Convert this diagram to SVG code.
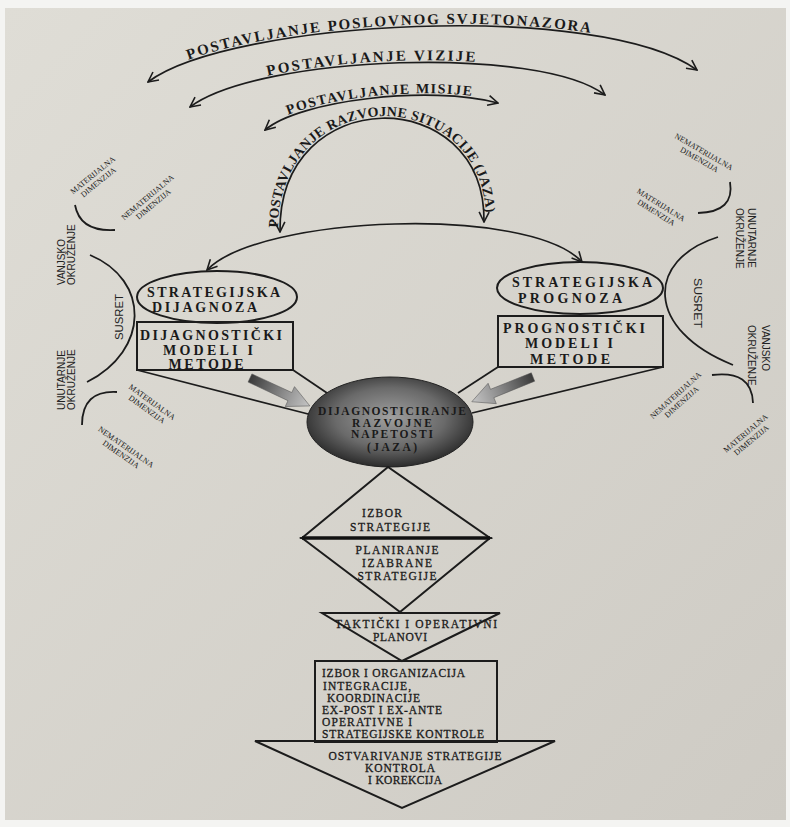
<svg xmlns="http://www.w3.org/2000/svg" width="790" height="827" viewBox="0 0 790 827">
<defs>
<linearGradient id="paper" x1="0" y1="0" x2="1" y2="1"><stop offset="0" stop-color="#dfddd6"/><stop offset="1" stop-color="#cecbc4"/></linearGradient>
<radialGradient id="gap" cx="0.5" cy="0.45" r="0.55"><stop offset="0" stop-color="#a0a0a0"/><stop offset="0.6" stop-color="#6a6a6a"/><stop offset="1" stop-color="#2c2c2c"/></radialGradient>
<linearGradient id="blk" x1="0" y1="0" x2="1" y2="0"><stop offset="0" stop-color="#3a3a3a"/><stop offset="0.55" stop-color="#8a8a8a"/><stop offset="1" stop-color="#c6c6c6"/></linearGradient>
<marker id="ah" viewBox="0 0 12 12" refX="11" refY="6" markerWidth="12" markerHeight="12" markerUnits="userSpaceOnUse" orient="auto-start-reverse"><path d="M1,1 L11,6 L1,11" fill="none" stroke="#1c1c1c" stroke-width="1.6"/></marker>
</defs>
<style>
.ln{fill:none;stroke:#1c1c1c;stroke-width:1.8}
.arc{fill:none;stroke:#1c1c1c;stroke-width:1.7;marker-start:url(#ah);marker-end:url(#ah)}
.shape{fill:none;stroke:#1c1c1c;stroke-width:2}
.bt{font-family:"Liberation Serif",serif;font-weight:bold;fill:#1a1a1a}
.rt{font-family:"Liberation Serif",serif;font-size:11.5px;fill:#1a1a1a;stroke:#1a1a1a;stroke-width:0.3}
.sans{font-family:"Liberation Sans",Arial,sans-serif;font-size:10px;fill:#222}
.dim{font-family:"Liberation Serif",serif;font-size:8px;fill:#222;text-anchor:middle}
.mid{text-anchor:middle}
</style>
<rect x="0" y="0" width="790" height="827" fill="#f4f4f2"/>
<rect x="5" y="8" width="781" height="812" fill="url(#paper)"/>

<g id="connectors">
  <path id="p-svjet" class="arc" d="M148,82 C230,20 600,0 697,70"/>
  <path id="p-vizija" class="arc" d="M190,107 C260,55 540,45 605,95"/>
  <path id="p-misija" class="arc" d="M265,130 C300,100 430,85 498,103"/>
  <path id="p-jaz" class="arc" d="M280,232 C278,82 486,82 484,222"/>
  <path class="arc" d="M207,270 C260,215 530,205 582,262"/>
  <line class="ln" x1="137" y1="370" x2="312" y2="415"/>
  <line class="ln" x1="293" y1="370" x2="330" y2="395"/>
  <line class="ln" x1="498" y1="367" x2="458" y2="393"/>
  <line class="ln" x1="663" y1="367" x2="472" y2="413"/>
</g>

<g id="arc-labels" class="bt">
  <text font-size="15" dy="-2"><textPath href="#p-svjet" startOffset="44%" text-anchor="middle" textLength="405">POSTAVLJANJE POSLOVNOG SVJETONAZORA</textPath></text>
  <text font-size="15" dy="-2"><textPath href="#p-vizija" startOffset="44%" text-anchor="middle" textLength="208">POSTAVLJANJE VIZIJE</textPath></text>
  <text font-size="14" dy="-2"><textPath href="#p-misija" startOffset="50%" text-anchor="middle" textLength="185">POSTAVLJANJE MISIJE</textPath></text>
  <text font-size="14" dy="-2"><textPath href="#p-jaz" startOffset="4" textLength="322">POSTAVLJANJE RAZVOJNE SITUACIJE (JAZA)</textPath></text>
</g>

<g id="gray-arrows">
  <polygon transform="translate(250,378) rotate(25)" points="0,-4.5 44,-4.5 44,-11 66,0 44,11 44,4.5 0,4.5" fill="url(#blk)" stroke="#555" stroke-width="0.5"/>
  <polygon transform="translate(533,377) rotate(158)" points="0,-4.5 44,-4.5 44,-11 66,0 44,11 44,4.5 0,4.5" fill="url(#blk)" stroke="#555" stroke-width="0.5"/>
</g>

<g id="node-strat-dijagnoza">
  <ellipse class="shape" cx="217" cy="297" rx="80" ry="26"/>
  <text class="bt" font-size="14" x="147" y="297" textLength="133">STRATEGIJSKA</text>
  <text class="bt" font-size="14" x="152" y="312" textLength="105">DIJAGNOZA</text>
</g>
<g id="node-dijag-modeli">
  <rect class="shape" x="137" y="322" width="156" height="48"/>
  <text class="bt mid" font-size="14" x="211" y="340" textLength="142">DIJAGNOSTIČKI</text>
  <text class="bt mid" font-size="14" x="208" y="355" textLength="90">MODELI I</text>
  <text class="bt mid" font-size="14" x="206" y="369" textLength="75">METODE</text>
</g>
<g id="node-strat-prognoza">
  <ellipse class="shape" cx="580" cy="288" rx="83" ry="26"/>
  <text class="bt mid" font-size="14" x="582" y="287" textLength="140">STRATEGIJSKA</text>
  <text class="bt mid" font-size="14" x="570" y="303" textLength="104">PROGNOZA</text>
</g>
<g id="node-prog-modeli">
  <rect class="shape" x="498" y="316" width="165" height="51"/>
  <text class="bt mid" font-size="14" x="574" y="333" textLength="142">PROGNOSTIČKI</text>
  <text class="bt mid" font-size="14" x="569" y="348" textLength="88">MODELI I</text>
  <text class="bt mid" font-size="14" x="570" y="364" textLength="80">METODE</text>
</g>

<g id="node-jaz">
  <ellipse cx="390" cy="422" rx="83" ry="45" fill="url(#gap)" stroke="#222" stroke-width="1"/>
  <text class="bt mid" font-size="11.5" x="392" y="415" textLength="148">DIJAGNOSTICIRANJE</text>
  <text class="bt mid" font-size="11.5" x="392" y="426.5" textLength="80">RAZVOJNE</text>
  <text class="bt mid" font-size="11.5" x="392" y="438" textLength="82">NAPETOSTI</text>
  <text class="bt mid" font-size="11.5" x="392" y="451" textLength="50">(JAZA)</text>
</g>

<g id="node-izbor-strategije">
  <polygon class="shape" points="388,467 302,538 490,538"/>
  <text class="rt mid" x="382" y="517" textLength="40">IZBOR</text>
  <text class="rt mid" x="390" y="531" textLength="80">STRATEGIJE</text>
</g>
<g id="node-planiranje">
  <polygon class="shape" points="302,538 400,612 490,538"/>
  <line x1="302" y1="538" x2="490" y2="538" stroke="#111" stroke-width="3.5"/>
  <text class="rt mid" x="397" y="554" textLength="83">PLANIRANJE</text>
  <text class="rt mid" x="397" y="567" textLength="70">IZABRANE</text>
  <text class="rt mid" x="397" y="580" textLength="79">STRATEGIJE</text>
</g>
<g id="node-takticki">
  <polygon class="shape" points="322,613 500,613 402,661"/>
  <text class="rt mid" x="416" y="628" textLength="162">TAKTIČKI I OPERATIVNI</text>
  <text class="rt mid" x="400" y="641" textLength="54">PLANOVI</text>
</g>
<g id="node-organizacija">
  <rect class="shape" x="315" y="661" width="182" height="81"/>
  <text class="rt" font-size="11" x="322" y="677" textLength="143">IZBOR I ORGANIZACIJA</text>
  <text class="rt" font-size="11" x="323" y="690" textLength="88">INTEGRACIJE,</text>
  <text class="rt" font-size="11" x="327" y="702" textLength="93">KOORDINACIJE</text>
  <text class="rt" font-size="11" x="322" y="714" textLength="120">EX-POST I EX-ANTE</text>
  <text class="rt" font-size="11" x="322" y="726" textLength="90">OPERATIVNE I</text>
  <text class="rt" font-size="11" x="322" y="738" textLength="162">STRATEGIJSKE KONTROLE</text>
</g>
<g id="node-ostvarivanje">
  <polygon class="shape" points="255,741 555,741 402,808"/>
  <text class="rt mid" font-size="11" x="415" y="760" textLength="173">OSTVARIVANJE STRATEGIJE</text>
  <text class="rt mid" font-size="11" x="400" y="772" textLength="70">KONTROLA</text>
  <text class="rt mid" font-size="11" x="405" y="784" textLength="74">I KOREKCIJA</text>
</g>

<g id="left-environment">
  <path class="ln" d="M90,255 C150,280 150,350 87,382"/>
  <text class="sans mid" font-size="14" transform="translate(123,317) rotate(-90)" textLength="46" lengthAdjust="spacingAndGlyphs">SUSRET</text>
  <text class="sans" transform="translate(65,285) rotate(-90)">VANJSKO</text>
  <text class="sans" transform="translate(75,285) rotate(-90)">OKRUŽENJE</text>
  <text class="sans" transform="translate(65,410) rotate(-90)">UNUTARNJE</text>
  <text class="sans" transform="translate(75,410) rotate(-90)">OKRUŽENJE</text>
  <path class="ln" d="M75,205 Q80,232 115,230"/>
  <g class="dim" transform="translate(95,178) rotate(-39)"><text y="-1">MATERIJALNA</text><text y="8">DIMENZIJA</text></g>
  <g class="dim" transform="translate(150,200) rotate(-40)"><text y="-1">NEMATERIJALNA</text><text y="8">DIMENZIJA</text></g>
  <path class="ln" d="M117,392 Q82,390 82,425"/>
  <g class="dim" transform="translate(150,405) rotate(36)"><text y="-1">MATERIJALNA</text><text y="8">DIMENZIJA</text></g>
  <g class="dim" transform="translate(124,450) rotate(35)"><text y="-1">NEMATERIJALNA</text><text y="8">DIMENZIJA</text></g>
</g>

<g id="right-environment">
  <path class="ln" d="M718,237 C645,260 645,330 733,365"/>
  <text class="sans mid" font-size="14" transform="translate(694,303) rotate(90)" textLength="50" lengthAdjust="spacingAndGlyphs">SUSRET</text>
  <text class="sans" transform="translate(748,208) rotate(90)">UNUTARNJE</text>
  <text class="sans" transform="translate(736,208) rotate(90)">OKRUŽENJE</text>
  <text class="sans" transform="translate(762,325) rotate(90)">VANJSKO</text>
  <text class="sans" transform="translate(748,325) rotate(90)">OKRUŽENJE</text>
  <path class="ln" d="M730,182 Q735,212 698,213"/>
  <g class="dim" transform="translate(702,155) rotate(30)"><text y="-1">NEMATERIJALNA</text><text y="8">DIMENZIJA</text></g>
  <g class="dim" transform="translate(659,208) rotate(32)"><text y="-1">MATERIJALNA</text><text y="8">DIMENZIJA</text></g>
  <path class="ln" d="M712,375 Q752,370 753,403"/>
  <g class="dim" transform="translate(678,398) rotate(-42)"><text y="-1">NEMATERIJALNA</text><text y="8">DIMENZIJA</text></g>
  <g class="dim" transform="translate(748,436) rotate(-40)"><text y="-1">MATERIJALNA</text><text y="8">DIMENZIJA</text></g>
</g>
</svg>
